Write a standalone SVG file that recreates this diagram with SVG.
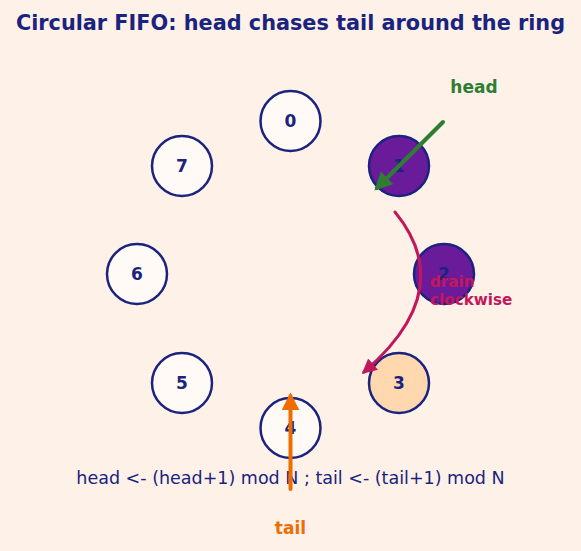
<svg xmlns="http://www.w3.org/2000/svg" width="581" height="551" viewBox="0 0 581 551">
<style>
.node{stroke:#1a237e;stroke-width:2.5;fill:#fffaf5}
.full{fill:#6a1b9a}
.next{fill:#ffd8b0}
.lbl{font-family:"DejaVu Sans",sans-serif;font-weight:bold;font-size:17px;fill:#1a237e;text-anchor:middle;dominant-baseline:central}
</style>
<defs>
<marker id="mg" viewBox="0 0 10 10" refX="8" refY="5" markerWidth="4.5" markerHeight="4.5" orient="auto"><path d="M0,0L10,5L0,10z" fill="#2e7d32"/></marker>
<marker id="mr" viewBox="0 0 10 10" refX="8" refY="5" markerWidth="5" markerHeight="5" orient="auto"><path d="M0,0L10,5L0,10z" fill="#c2185b"/></marker>
<marker id="mo" viewBox="0 0 10 10" refX="8" refY="5" markerWidth="4.5" markerHeight="4.5" orient="auto"><path d="M0,0L10,5L0,10z" fill="#ef6c00"/></marker>
</defs>
<rect width="581" height="551" fill="#fdf1e8"/>
<text x="290.5" y="30" font-family="DejaVu Sans,sans-serif" font-weight="bold" font-size="20.8" fill="#1a237e" text-anchor="middle">Circular FIFO: head chases tail around the ring</text>
<g id="n0"><circle class="node" cx="290.5" cy="121" r="30"/><text class="lbl" x="290.5" y="121">0</text></g>
<g id="n1"><circle class="node full" cx="399" cy="166" r="30"/><text class="lbl" x="399" y="166">1</text></g>
<g id="n2"><circle class="node full" cx="444" cy="274" r="30"/><text class="lbl" x="444" y="274">2</text></g>
<g id="n3"><circle class="node next" cx="399" cy="383" r="30"/><text class="lbl" x="399" y="383">3</text></g>
<g id="n4"><circle class="node" cx="290.5" cy="428" r="30"/><text class="lbl" x="290.5" y="428">4</text></g>
<g id="n5"><circle class="node" cx="182" cy="383" r="30"/><text class="lbl" x="182" y="383">5</text></g>
<g id="n6"><circle class="node" cx="137" cy="274" r="30"/><text class="lbl" x="137" y="274">6</text></g>
<g id="n7"><circle class="node" cx="182" cy="166" r="30"/><text class="lbl" x="182" y="166">7</text></g>
<text x="290.5" y="484" font-family="DejaVu Sans,sans-serif" font-size="17.5" fill="#1a237e" text-anchor="middle">head &lt;- (head+1) mod N ; tail &lt;- (tail+1) mod N</text>
<g id="connectors" fill="none" stroke-linecap="round">
<path d="M443,122L377,188" stroke="#2e7d32" stroke-width="4" marker-end="url(#mg)"/>
<path d="M395,212Q459,290 364,372" stroke="#c2185b" stroke-width="3" marker-end="url(#mr)"/>
<path d="M290.5,489L290.5,396" stroke="#ef6c00" stroke-width="4" marker-end="url(#mo)"/>
</g>
<text x="474" y="93" font-family="DejaVu Sans,sans-serif" font-weight="bold" font-size="17" fill="#2e7d32" text-anchor="middle">head</text>
<text font-family="DejaVu Sans,sans-serif" font-weight="bold" font-size="15.2" fill="#c2185b"><tspan x="430" y="287">drain</tspan><tspan x="430" y="305">clockwise</tspan></text>
<text x="290.5" y="534" font-family="DejaVu Sans,sans-serif" font-weight="bold" font-size="17" fill="#ef6c00" text-anchor="middle">tail</text>
</svg>
